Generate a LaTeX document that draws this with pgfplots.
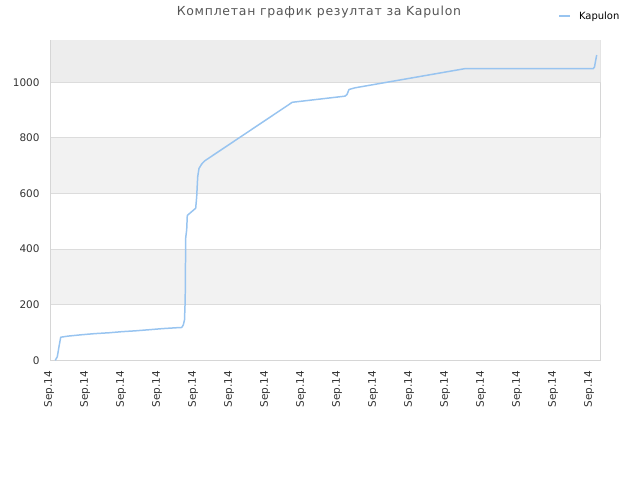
\documentclass[border=0pt]{standalone}
\usepackage{fontspec}
\setmainfont{DejaVu Sans}
\usepackage{pgfplots}
\pgfplotsset{compat=1.18}

\definecolor{linec}{HTML}{98C4F0}
\definecolor{bandc}{HTML}{F2F2F2}
\definecolor{topband}{HTML}{EDEDED}
\definecolor{gridc}{HTML}{DCDCDC}
\definecolor{axisc}{HTML}{D6D6D6}
\definecolor{titlec}{HTML}{555555}
\definecolor{tickc}{HTML}{333333}

\begin{document}
\begin{tikzpicture}
\path (0,0) rectangle (640bp,480bp);
\begin{axis}[
    at={(50.5bp,119.7bp)}, anchor=south west,
    scale only axis,
    width=550bp, height=320.3bp,
    xmin=0, xmax=550, ymin=0, ymax=1152,
    axis line style={axisc, line width=0.8pt},
    major tick length=0pt,
    ytick={0,200,400,600,800,1000},
    xtick={0,36,...,540},
    xticklabel={Sep.14},
    x tick label style={yshift=-7bp, xshift=-1.5bp, rotate=90, anchor=east, font=\fontsize{10.5}{12}\selectfont, text=tickc},
    y tick label style={xshift=-7.5bp, font=\fontsize{10.5}{12}\selectfont, text=tickc},
    /pgf/number format/assume math mode=true,
    /pgf/number format/1000 sep={},
    every axis title shift=0pt,
    title={Комплетан график резултат за Kapulon},
    title style={at={(0.488,1.0874)}, anchor=center, font=\fontsize{12.5}{14}\selectfont\addfontfeature{LetterSpace=6}, text=titlec},
    legend style={at={(0.923,1.075)}, anchor=west, draw=none, fill=none,
        inner sep=0pt, font=\fontsize{10}{12}\selectfont},
    legend image code/.code={\draw[#1, line width=2pt] (0bp,0bp) -- (11bp,0bp); \path (17bp,0bp);},
]
\fill[bandc] (axis cs:0,200) rectangle (axis cs:550,400);
\fill[bandc] (axis cs:0,600) rectangle (axis cs:550,800);
\fill[topband] (axis cs:0,1000) rectangle (axis cs:550,1152);
\foreach \g in {200,400,600,800,1000}{
  \edef\tmp{\noexpand\draw[gridc, line width=0.8pt] (axis cs:0,\g) -- (axis cs:550,\g);}
  \tmp
}
\addplot[linec, line width=1.5pt, line join=round] coordinates {
(4.8,0) (6.8,13) (8.5,49) (10.2,83) (17.5,87) (31.5,92) (44.5,96)
(58.5,99) (71.5,103) (84.8,106) (98.8,110) (112.2,114) (125.5,117)
(131.2,118) (132.8,127) (134,145) (134.7,217) (135.2,440) (136.2,470)
(136.8,521) (145.2,547) (146.2,589) (147.2,660) (148.5,690) (151.2,706)
(154.5,718) (241.8,928) (294.5,950) (296.5,956) (298.5,974) (304.5,980)
(414.5,1049) (542.8,1049) (544,1055) (545,1075) (546.2,1098)
};
\addlegendentry{Kapulon}
\end{axis}
\end{tikzpicture}
\end{document}
